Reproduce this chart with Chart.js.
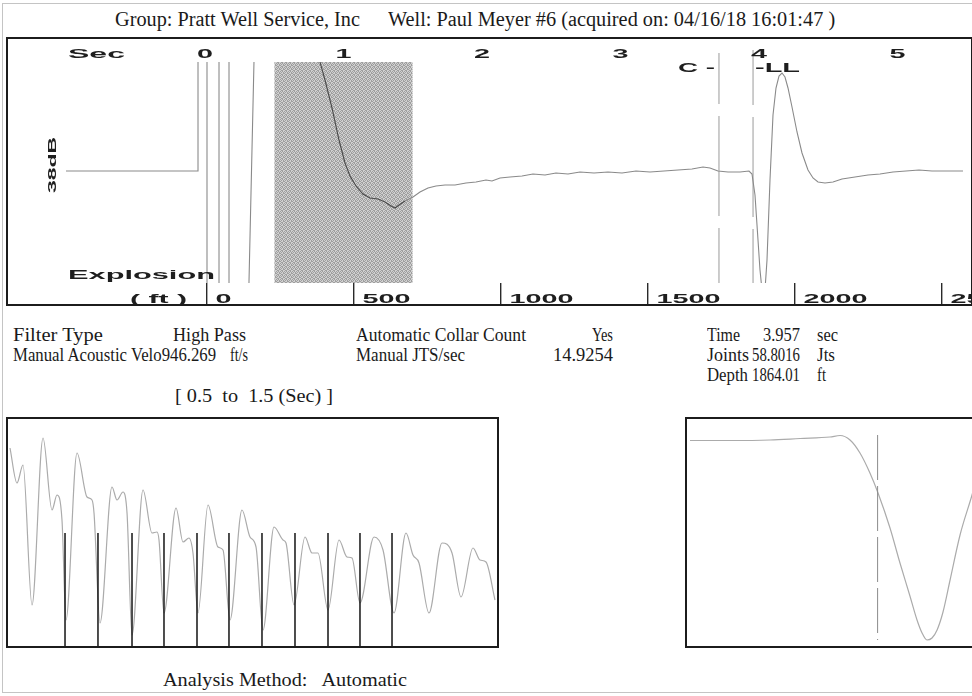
<!DOCTYPE html>
<html><head><meta charset="utf-8"><title>Acoustic shot</title>
<script src="https://cdn.jsdelivr.net/npm/chart.js@4.4.1/dist/chart.umd.min.js"></script>
<style>
html,body{margin:0;padding:0;background:#fff;overflow:hidden;}
body{width:972px;height:696px;position:relative;}
#page{position:absolute;left:2px;top:3px;width:1000px;height:690px;border:1px solid #c4c4c4;box-sizing:border-box;}
.box{position:absolute;border:2px solid #1c1c1c;box-sizing:border-box;overflow:hidden;background:#fff;}
.box canvas{position:absolute;left:0;top:0;}
.tx{position:absolute;font-family:"Liberation Serif","Times New Roman",serif;color:#1a1a1a;white-space:pre;}
</style></head><body>
<div id="page"></div>
<div class="box" style="left:6px;top:37px;width:967px;height:269px;"><canvas id="cTop" width="963" height="265" style="width:963px;height:265px"></canvas></div>
<div class="box" style="left:6px;top:417px;width:493px;height:231px;"><canvas id="cBL" width="489" height="227" style="width:489px;height:227px"></canvas></div>
<div class="box" style="left:685px;top:417px;width:300px;height:231px;"><canvas id="cBR" width="296" height="227" style="width:296px;height:227px"></canvas></div>
<script>
// ---------------- data ----------------
const secTicks = [0, 1, 2, 3, 4, 5];
const secTickLabels = ['0', '1', '2', '3', '4', '5'];
const ftTicks = [0, 500, 1000, 1500, 2000, 2500];
const ftTickLabels = ['0', '500', '1000', '1500', '2000', '2500'];

// full acoustic trace (seconds, amplitude); +/-150 = off-scale (clipped)
const topTime = [-1.004, -0.0505, -0.0505, 0.0144, 0.0144, 0.1011, 0.1011, 0.1733, 0.1733, 0.3112,
  0.3603, 0.8231, 0.8303, 0.8664, 0.9170, 0.9675, 1.0108, 1.0469, 1.0903, 1.1408,
  1.1913, 1.2491, 1.2996, 1.3430, 1.3718, 1.4007, 1.4440, 1.5018, 1.5523, 1.6101,
  1.6679, 1.7329, 1.8051, 1.8845, 1.9567, 2.0289, 2.0722, 2.1300, 2.2022, 2.2888,
  2.3682, 2.4549, 2.5343, 2.6209, 2.7076, 2.8087, 2.9097, 3.0108, 3.1119, 3.2130,
  3.3141, 3.4152, 3.5162, 3.5957, 3.6462, 3.7040, 3.7762, 3.8628, 3.9278, 3.9495,
  3.9711, 3.9928, 4.0072, 4.0217, 4.0433, 4.0578, 4.0794, 4.1011, 4.1227, 4.1444,
  4.1661, 4.1877, 4.2094, 4.2383, 4.2744, 4.3105, 4.3538, 4.3899, 4.4260, 4.4765,
  4.5343, 4.5993, 4.6931, 4.7870, 4.8736, 4.9675, 5.0614, 5.1552, 5.2491, 5.3430, 5.4729];
const topAmp = [0, 0, 150, 150, -150, -150, 150, 150, -150, -150,
  150, 150, 109, 91, 63, 31, 8, -5, -15, -23,
  -27, -28, -31, -35, -37, -34, -30, -26, -21, -17,
  -15, -14, -14, -12, -11, -9, -10, -7, -6, -5,
  -3, -4, -2, -3, -1, -2, -1, -2, 0, -1,
  0, 1, 2, 4, 3, 0, -1, -1, 0, -3,
  -24, -69, -99, -119, -119, -89, -9, 56, 83, 95,
  98, 94, 83, 64, 39, 18, 1, -7, -11, -12,
  -11, -8, -6, -4, -3, -1, 0, 1, 0, 0, 0];

const shadeWindow = [0.5, 1.5];
const collarRefTime = 3.711;
const liquidLevelTime = 3.957;
const gainLabel = '38dB';

// filtered trace 0.5 - 1.5 s
const blTime = [0.5041, 0.5184, 0.5307, 0.5491, 0.5716, 0.5900, 0.6002, 0.6104, 0.6186, 0.6411,
  0.6616, 0.6718, 0.6759, 0.6881, 0.7127, 0.7229, 0.7352, 0.7434, 0.7536, 0.7761,
  0.7945, 0.8047, 0.8088, 0.8190, 0.8436, 0.8579, 0.8701, 0.8783, 0.8885, 0.9090,
  0.9294, 0.9397, 0.9540, 0.9785, 0.9949, 1.0072, 1.0215, 1.0440, 1.0624, 1.0685,
  1.0849, 1.1074, 1.1217, 1.1339, 1.1544, 1.1769, 1.1933, 1.2035, 1.2198, 1.2485,
  1.2669, 1.2894, 1.3139, 1.3282, 1.3405, 1.3609, 1.3875, 1.4080, 1.4264, 1.4509,
  1.4652, 1.4775, 1.4959];
const blAmp = [98, 63, 81, -59, 108, 36, 51, 26, -74, 93,
  49, 46, 33, -77, 59, 46, 54, 33, -89, 56,
  13, 14, 6, -67, 38, 4, 8, -7, -67, 41,
  -1, -4, -74, 36, 9, -1, -84, 19, 6, 3,
  -59, 9, -7, -7, -64, 6, -11, -12, -57, 9,
  -4, -67, 13, -9, -17, -67, 3, -7, -51, -2,
  -14, -16, -54];
const jointTimes = [0.6166, 0.6840, 0.7536, 0.8190, 0.8865, 0.9519, 1.0194, 1.0869, 1.1544, 1.2198, 1.2853];
const jointMarkTop = 13;

// liquid level detail
const brTime = [3.8271, 3.8548, 3.8825, 3.9033, 3.9240, 3.9310, 3.9379, 3.9448, 3.9517, 3.9573,
  3.9656, 3.9725, 3.9794, 3.9843, 3.9878, 3.9912, 3.9947, 3.9982, 4.0023, 4.0072,
  4.0141, 4.0224, 4.0300];
const brAmp = [105.5, 105.5, 106, 107.5, 109, 110.5, 106, 93, 73, 53,
  18, -17, -50, -74, -87, -94, -92, -84, -66, -34,
  11, 51, 91];

// ---------------- scale ranges ----------------
const TOP_SEC = [-1.4224, 5.5307];
const TOP_FT = [-675.2, 2600.3];
const TOP_AMP = [-112, 109];
const BL_SEC = [0.5, 1.5];
const BR_SEC = [3.825, 4.030];
const LOW_AMP = [-100, 127];

// ---------------- helpers ----------------
const LBL_FONT = '"Liberation Sans", Arial, sans-serif';
function wide(ctx, text, x, y, size, sx, align) {
  ctx.save();
  ctx.font = 'bold ' + size + 'px ' + LBL_FONT;
  ctx.textAlign = 'left'; ctx.textBaseline = 'alphabetic';
  const w = ctx.measureText(text).width * sx;
  const x0 = align === 'center' ? x - w / 2 : align === 'right' ? x - w : x;
  ctx.translate(x0, y); ctx.scale(sx, 1);
  ctx.fillText(text, 0, 0);
  ctx.restore();
}
function fitWidth(ctx, text, size, width) {
  ctx.save(); ctx.font = 'bold ' + size + 'px ' + LBL_FONT;
  const w = ctx.measureText(text).width; ctx.restore();
  return width / w;
}
function pts(xs, ys) { return xs.map((x, i) => ({x: x, y: ys[i]})); }

const base = {responsive: false, animation: false, events: [], devicePixelRatio: 1,
  layout: {padding: 0}, plugins: {legend: {display: false}, tooltip: {enabled: false}}};

// shade pattern
const topCanvas = document.getElementById('cTop');
const tctx = topCanvas.getContext('2d');
const pc = document.createElement('canvas'); pc.width = 4; pc.height = 4;
const pg = pc.getContext('2d');
pg.fillStyle = '#d0d0d0'; pg.fillRect(0, 0, 4, 4);
pg.fillStyle = '#9e9e9e';
[[0,0],[2,0],[1,1],[3,1],[3,2],[0,2],[2,3],[1,3]].forEach(p => pg.fillRect(p[0], p[1], 1, 1));
const shadeFill = tctx.createPattern(pc, 'repeat');

const topLabels = {
  id: 'topLabels',
  afterDraw(chart) {
    const ctx = chart.ctx, xs = chart.scales.x, xf = chart.scales.xft;
    ctx.save();
    ctx.fillStyle = '#1e1e1e';
    secTicks.forEach((v, i) => wide(ctx, secTickLabels[i], xs.getPixelForValue(v), 19, 12.5, 2.3, 'center'));
    ftTicks.forEach((v, i) => wide(ctx, ftTickLabels[i], xf.getPixelForValue(v) + 9, 264, 12.5, 2.3, 'left'));
    wide(ctx, 'Sec', 60, 19, 12.5, fitWidth(ctx, 'Sec', 12.5, 57), 'left');
    wide(ctx, 'Explosion', 60, 240, 13.5, fitWidth(ctx, 'Explosion', 13.5, 147), 'left');
    wide(ctx, '( ft )', 122, 264, 12.5, fitWidth(ctx, '( ft )', 12.5, 57), 'left');
    wide(ctx, 'C -', xs.getPixelForValue(collarRefTime) - 4, 33, 12.5, fitWidth(ctx, 'C -', 12.5, 37), 'right');
    wide(ctx, '-LL', xs.getPixelForValue(liquidLevelTime) + 2, 33, 12.5, fitWidth(ctx, '-LL', 12.5, 45), 'left');
    ctx.save();
    ctx.translate(44, 126); ctx.rotate(-Math.PI / 2);
    wide(ctx, gainLabel, 0, 4, 10.5, fitWidth(ctx, gainLabel, 10.5, 56), 'center');
    ctx.restore();
    ctx.restore();
  }
};

function vline(t, y0, y1) { return [{x: t, y: y0}, {x: t, y: y1}]; }

new Chart(tctx, {
  type: 'scatter',
  data: {datasets: [
    {data: pts(topTime, topAmp), showLine: true, borderColor: '#8a8a8a', borderWidth: 1.1,
     pointRadius: 0, tension: 0, order: 1,
     segment: {borderColor: c => (c.p0.parsed.x >= shadeWindow[0] && c.p1.parsed.x <= shadeWindow[1]) ? '#4a4a4a' : '#8a8a8a'}},
    {data: [{x: shadeWindow[0], y: TOP_AMP[1]}, {x: shadeWindow[1], y: TOP_AMP[1]}], showLine: true,
     fill: {value: TOP_AMP[0]}, backgroundColor: shadeFill, borderWidth: 0, pointRadius: 0, order: 5},
    {data: vline(collarRefTime, 118, TOP_AMP[0]), showLine: true, borderColor: '#9a9a9a', borderWidth: 1,
     borderDash: [100, 12], borderDashOffset: 49, pointRadius: 0, clip: false, order: 2},
    {data: vline(liquidLevelTime, 121, TOP_AMP[0]), showLine: true, borderColor: '#9a9a9a', borderWidth: 1,
     borderDash: [100, 12], borderDashOffset: 45, pointRadius: 0, clip: false, order: 2}
  ]},
  options: Object.assign({}, base, {
    scales: {
      x: {type: 'linear', position: 'top', min: TOP_SEC[0], max: TOP_SEC[1],
          afterBuildTicks: s => { s.ticks = secTicks.map(v => ({value: v})); },
          ticks: {display: false}, grid: {display: false}, border: {display: false},
          afterFit: s => { s.height = 23; }},
      xft: {type: 'linear', axis: 'x', position: 'bottom', min: TOP_FT[0], max: TOP_FT[1],
          afterBuildTicks: s => { s.ticks = ftTicks.map(v => ({value: v})); },
          ticks: {display: false},
          grid: {drawOnChartArea: false, drawTicks: true, tickLength: 21, color: '#2a2a2a', lineWidth: 1.4},
          border: {display: false},
          afterFit: s => { s.height = 21; }},
      y: {display: false, min: TOP_AMP[0], max: TOP_AMP[1]}
    }
  }),
  plugins: [topLabels]
});

const markerPts = [];
jointTimes.forEach(t => { markerPts.push({x: t, y: jointMarkTop}, {x: t, y: LOW_AMP[0]}, {x: t, y: null}); });

new Chart(document.getElementById('cBL'), {
  type: 'scatter',
  data: {datasets: [
    {data: pts(blTime, blAmp), showLine: true, borderColor: '#ababab', borderWidth: 1.2, pointRadius: 0,
     cubicInterpolationMode: 'monotone', order: 2},
    {data: markerPts, showLine: true, spanGaps: false, borderColor: '#151515', borderWidth: 1.5, pointRadius: 0, order: 1}
  ]},
  options: Object.assign({}, base, {scales: {
    x: {type: 'linear', display: false, min: BL_SEC[0], max: BL_SEC[1]},
    y: {display: false, min: LOW_AMP[0], max: LOW_AMP[1]}}})
});

new Chart(document.getElementById('cBR'), {
  type: 'scatter',
  data: {datasets: [
    {data: pts(brTime, brAmp), showLine: true, borderColor: '#ababab', borderWidth: 1.2, pointRadius: 0,
     cubicInterpolationMode: 'monotone', order: 2},
    {data: vline(liquidLevelTime, 111, -94), showLine: true, borderColor: '#8c8c8c', borderWidth: 1,
     borderDash: [45, 6], pointRadius: 0, order: 1}
  ]},
  options: Object.assign({}, base, {scales: {
    x: {type: 'linear', display: false, min: BR_SEC[0], max: BR_SEC[1]},
    y: {display: false, min: LOW_AMP[0], max: LOW_AMP[1]}}})
});

// ---------------- text (fitted to the widths seen in the reference) ----------------
function addText(str, x0, x1, baseline, size) {
  const d = document.createElement('div'); d.className = 'tx'; d.textContent = str;
  d.style.fontSize = size + 'px'; d.style.lineHeight = size + 'px';
  d.style.top = (baseline - Math.round(size * 0.84)) + 'px';
  d.style.left = x0 + 'px';
  document.body.appendChild(d);
  const w = d.getBoundingClientRect().width;
  if (w > 0) { d.style.transformOrigin = '0 0'; d.style.transform = 'scaleX(' + ((x1 - x0) / w).toFixed(3) + ')'; }
}
addText('Group: Pratt Well Service, Inc', 115, 360, 26, 20);
addText('Well: Paul Meyer #6 (acquired on: 04/16/18 16:01:47 )', 388, 835, 26, 20);
const F = 19;
addText('Filter Type', 13, 103, 341, F);
addText('High Pass', 173, 246, 341, F);
addText('Automatic Collar Count', 356, 526, 341, F);
addText('Yes', 592, 613, 341, F);
addText('Time', 707, 740, 341, F);
addText('3.957', 763, 800, 341, F);
addText('sec', 817, 838, 341, F);
addText('Manual Acoustic Velo946.269', 13, 216, 361, F);
addText('ft/s', 230, 248, 361, F);
addText('Manual JTS/sec', 356, 465, 361, F);
addText('14.9254', 553, 613, 361, F);
addText('Joints', 707, 749, 361, F);
addText('58.8016', 752, 800, 361, F);
addText('Jts', 817, 835, 361, F);
addText('Depth', 707, 748, 381, F);
addText('1864.01', 752, 800, 381, F);
addText('ft', 817, 826, 381, F);
addText('[ 0.5  to  1.5 (Sec) ]', 175, 333, 402, 19);
addText('Analysis Method:   Automatic', 163, 407, 686, 19);
</script>
</body></html>
